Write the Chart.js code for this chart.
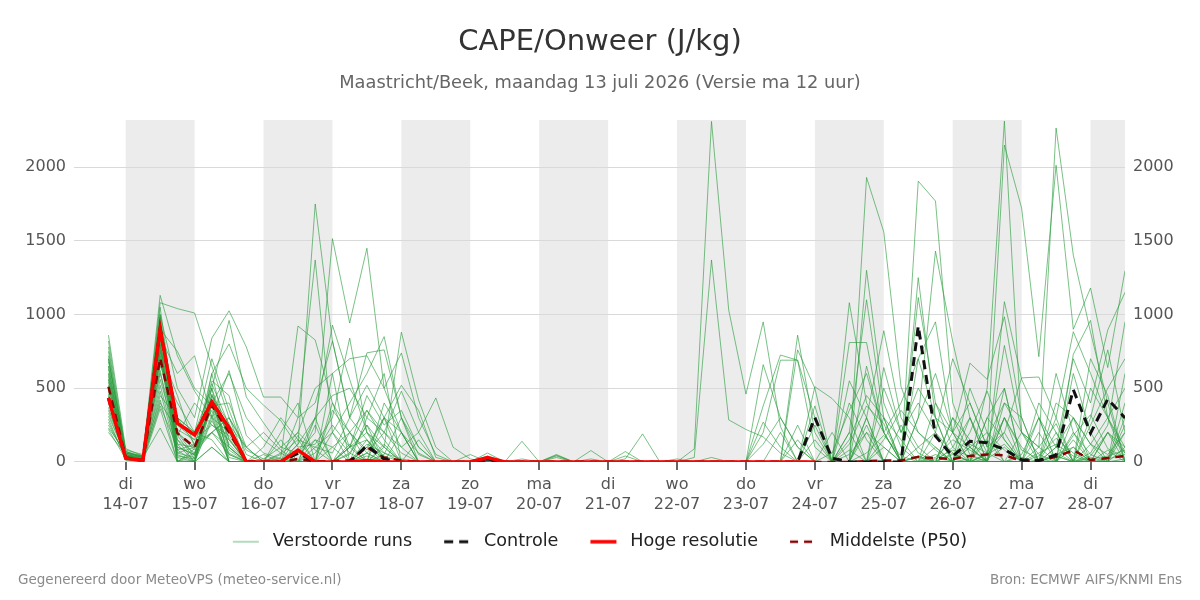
<!DOCTYPE html>
<html><head><meta charset="utf-8">
<script src="https://cdn.jsdelivr.net/npm/chart.js@4.4.1/dist/chart.umd.min.js"></script>
<style>html,body{margin:0;padding:0;background:#fff;}#wrap{position:relative;width:1200px;height:600px;}</style>
</head><body><div id="wrap"><canvas id="c" width="1200" height="600"></canvas></div>
<script>
// Time axis: index 0 = 13-07 18h, step 6 h
const dayNames = ['di','wo','do','vr','za','zo','ma','di','wo','do','vr','za','zo','ma','di'];
const dayDates = ['14-07','15-07','16-07','17-07','18-07','19-07','20-07','21-07','22-07','23-07','24-07','25-07','26-07','27-07','28-07'];
const dayTickIdx = [1,5,9,13,17,21,25,29,33,37,41,45,49,53,57];
const shadeStart = [1,9,17,25,33,41,49,57];
const yTicks = [0,500,1000,1500,2000];

const hres = [434,25,10,900,263,183,407,230,0, 0,0,80,0,0,0,10,0,0,0,0,0, 0,30,0,0,0,0,0,0,0,0,0,0,0, 0,0,0,0,0,0,0,0, null,null,null,null,null,null,null,null,null,null,null,null,null,null,null,null,null,null];
const control = [434,25,10,900,263,183,407,230,0, 0,0,60,0,0,0,110,20,0,0,0,0, 0,20,0,0,0,0,0,0,0,0,0,0,0, 0,0,0,0,0,0,0,300,25,0,0,0,0, 922,175,38,140,130,85,14,10,47,490,195,427,298];
const p50 = [510,30,10,705,195,100,385,200,5, 0,0,20,5,5,10,100,30,10,0,0,0, 0,10,0,0,0,0,0,0,0,0,0,0,0, 0,0,0,0,0,0,0,0,0,0,5,10,10, 34,25,20,40,50,45,8,8,34,80,13,27,40];

const m01 = [860,90,40,1130,720,480,300,620,180, 60,20,0,300,928,560,200,60,20,0,0,0, 0,10,0,0,0,0,0,0,0,0,0,0,0, 88,2310,1030,460,950,240,0,0,0,120,380,260,0, 40,0,10,120,60,300,80,20,0,180,320,90,30];
const m02 = [820,70,30,1080,1040,1010,650,300,80, 20,0,120,1750,820,300,150,40,0,0,0,0, 0,0,0,0,0,0,0,0,0,0,0,0,0, 30,1370,285,220,170,60,0,0,0,0,60,180,40, 0,30,150,80,10,1087,560,300,100,0,40,200,60];
const m03 = [780,50,20,1000,500,300,840,1025,780, 440,440,300,1370,200,60,0,0,0,0,0,0, 0,0,0,140,0,0,0,0,0,0,0,0,0, 0,0,0,0,380,725,690,300,0,50,200,100,0, 0,0,0,20,160,400,200,50,0,300,120,0,0];
const m04 = [750,60,30,950,300,200,500,960,440, 265,100,60,200,1515,942,1450,500,200,60,0,0, 0,0,0,0,0,0,0,0,0,0,0,0,0, 0,0,0,0,0,0,860,200,0,0,300,890,300, 100,200,60,0,300,150,0,40,160,60,0,200,100];
const m05 = [720,40,20,900,750,500,380,400,100, 0,30,922,827,400,200,60,0,0,0,0,0, 0,30,0,0,0,0,0,0,0,0,0,0,0, 0,30,0,0,200,690,690,100,0,810,810,200,0, 0,50,0,200,480,150,0,100,260,0,60,250,950];
const m06 = [700,30,20,850,600,720,300,200,0, 0,0,300,400,820,300,740,760,300,50,0,0, 0,0,0,0,0,40,0,0,0,0,0,0,0, 0,0,0,0,660,300,100,0,0,0,1930,1560,510, 200,80,0,0,50,120,0,0,100,300,120,50,200];
const m07 = [680,80,50,800,200,100,600,800,500, 385,280,100,120,300,840,200,100,880,420,100,0, 0,0,0,0,0,0,0,0,0,0,0,0,0, 0,0,0,0,0,0,0,0,0,0,1300,400,100, 0,0,200,100,0,0,50,300,0,0,0,80,0];
const m08 = [650,30,10,700,100,50,400,600,300, 150,60,200,500,600,700,720,500,739,300,50,0, 0,0,0,0,0,0,0,77,0,0,0,0,0, 0,0,0,0,0,0,0,0,0,200,1100,300,0, 1115,400,100,0,0,0,200,100,0,600,200,0,0];
const m09 = [630,20,10,650,400,200,700,350,50, 0,0,0,0,200,400,600,850,300,100,0,0, 0,0,0,0,0,0,0,0,0,0,0,0,0, 0,0,0,0,0,0,0,510,430,300,0,0,0, 1905,1770,400,100,0,300,100,0,40,0,120,300,60];
const m10 = [600,60,40,600,180,400,250,150,0, 0,0,60,300,450,500,300,200,100,200,434,100, 20,0,0,0,0,0,0,0,0,0,0,0,0, 0,0,0,0,0,0,0,0,0,0,300,0,0, 1250,300,0,0,60,790,200,0,0,0,300,760,200];
const m11 = [580,40,20,560,150,60,200,300,100, 0,50,150,100,60,300,520,300,520,350,30,0, 0,0,0,0,0,0,0,0,0,0,0,0,0, 0,0,0,0,0,0,0,380,0,0,0,0,0, 300,1430,816,300,60,0,0,200,0,0,0,0,100];
const m12 = [560,20,10,520,80,0,450,260,0, 0,0,0,0,400,100,450,250,350,100,0,0, 50,0,0,0,0,0,0,0,0,0,0,0,0, 0,0,0,0,0,0,0,0,0,0,0,0,0, 0,0,0,0,500,2312,200,100,2265,1403,880,400,0];
const m13 = [540,50,30,480,50,0,600,100,0, 0,20,0,250,0,200,350,150,0,0,0,0, 0,0,0,0,0,0,0,0,0,20,190,0,0, 0,0,0,0,0,0,0,0,0,0,650,200,400, 700,300,200,400,100,2150,1722,714,2013,900,1180,640,1297];
const m14 = [520,30,10,450,300,120,200,50,0, 0,0,0,0,0,50,250,100,0,0,0,0, 0,60,0,0,0,50,0,0,0,70,0,0,0, 0,0,0,0,0,0,0,0,0,0,0,300,0, 300,600,200,670,560,985,300,0,100,700,400,895,1150];
const m15 = [500,70,40,420,0,0,100,0,0, 0,0,0,0,0,0,100,300,200,0,0,0, 0,40,0,0,0,45,0,20,0,0,0,0,0, 0,0,0,0,0,0,0,0,0,0,0,0,0, 0,200,700,400,100,200,570,576,300,883,600,300,500];
const m16 = [480,20,10,400,220,150,250,180,0, 0,0,0,100,200,0,300,600,0,0,0,0, 0,0,0,20,0,30,0,0,0,40,0,0,20, 0,0,0,0,0,0,760,500,0,0,200,0,0, 0,0,0,0,0,300,0,0,50,100,0,0,0];
const m17 = [460,50,20,380,100,50,550,450,0, 0,0,0,0,0,0,0,120,0,0,0,0, 0,0,0,0,0,0,0,0,0,0,0,0,0, 0,0,0,0,0,0,0,0,0,1080,400,200,0, 0,100,0,500,200,0,0,300,0,150,0,0,300];
const m18 = [440,10,0,360,0,0,300,0,0, 0,0,180,0,0,0,0,0,0,0,0,0, 0,0,0,0,0,0,0,0,0,0,0,0,0, 0,0,0,0,0,0,0,0,0,0,0,0,0, 700,950,200,0,0,0,0,0,0,0,0,0,0];
const m19 = [420,40,20,700,300,200,150,0,0, 0,0,0,0,0,0,40,0,0,0,0,0, 0,0,0,0,0,0,0,0,0,0,0,0,0, 0,0,0,0,0,0,0,0,0,0,0,0,0, 30,0,60,0,20,100,0,0,40,0,30,0,20];
const m20 = [400,30,10,750,450,100,200,300,0, 0,0,0,0,0,100,0,0,0,0,0,0, 0,0,0,0,0,0,0,0,0,0,0,0,0, 0,0,0,0,0,0,0,0,0,0,0,0,0, 0,0,300,50,0,0,0,0,0,0,0,0,0];
const m21 = [370,20,10,980,60,30,500,150,0, 0,0,50,150,100,0,120,60,0,0,0,0, 0,0,0,0,0,0,0,0,0,0,0,0,0, 0,0,0,0,270,100,0,0,60,350,600,200,0, 40,0,0,100,200,80,0,60,120,40,0,20,50];
const m22 = [350,60,30,920,80,120,450,100,0, 0,60,0,60,250,100,200,0,0,0,0,0, 0,0,0,0,0,0,0,0,0,0,0,0,0, 0,0,0,0,0,0,250,0,0,150,450,300,150, 0,20,80,40,0,0,30,0,60,0,20,40,80];
const m23 = [330,40,20,880,150,0,400,50,0, 0,0,0,0,100,200,80,300,100,0,0,0, 0,0,0,0,0,0,0,0,0,0,0,0,0, 0,0,0,0,0,0,0,150,0,200,0,0,250, 60,0,0,0,50,200,0,0,0,100,0,0,0];
const m24 = [310,50,10,820,0,60,420,80,0, 20,100,200,80,0,0,150,0,0,0,0,0, 0,0,0,0,0,0,0,0,0,0,0,0,0, 0,0,0,0,0,0,0,0,0,0,0,0,0, 0,0,100,300,0,0,0,400,200,0,500,300,0];
const m25 = [290,20,10,780,120,100,380,200,0, 0,0,0,0,0,100,350,200,60,0,0,0, 0,0,0,0,0,0,0,0,0,0,0,0,0, 0,0,0,0,120,300,100,0,0,0,0,500,200, 400,200,0,0,0,500,0,0,0,730,960,300,100];
const m26 = [270,30,20,760,60,100,350,0,0, 0,150,0,0,350,200,0,50,300,0,0,0, 0,0,0,0,0,0,0,0,0,0,0,0,0, 0,0,0,0,0,0,0,0,0,0,250,0,0, 0,0,50,0,150,0,0,0,600,200,0,0,400];
const m27 = [250,40,20,740,0,90,390,120,0, 50,0,0,0,0,0,60,200,480,200,0,0, 0,0,0,0,0,0,0,0,0,0,0,0,0, 0,0,0,0,0,0,150,0,0,80,0,150,350, 200,100,0,0,0,400,300,0,0,0,250,500,700];
const m28 = [230,70,30,680,200,40,500,0,0, 0,0,0,150,0,0,0,0,0,0,0,0, 0,0,0,0,0,0,0,0,0,0,0,0,0, 0,0,0,0,0,0,0,0,0,0,0,0,0, 0,0,0,0,0,0,0,0,0,200,50,0,0];
const m29 = [220,20,10,620,30,0,280,60,0, 0,200,400,0,0,0,100,0,0,0,0,0, 0,0,0,0,0,0,0,0,0,0,0,0,0, 0,0,0,0,0,0,0,0,200,0,0,100,0, 0,0,300,150,0,0,0,0,400,300,0,0,200];
const m30 = [200,50,30,230,0,0,100,0,0, 0,0,0,0,0,0,0,0,0,0,0,0, 0,0,0,0,0,0,0,0,0,0,0,0,0, 0,0,0,0,0,0,0,0,0,0,0,0,0, 0,0,0,0,0,0,0,0,0,0,0,0,0];
const m31 = [650,30,10,1050,180,20,420,30,0, 100,300,150,0,0,120,0,400,200,0,0,0, 0,0,0,0,0,0,0,0,0,0,0,0,0, 0,0,0,0,0,0,0,0,0,0,0,640,200, 500,300,0,100,0,0,0,0,200,0,0,0,600];
const m32 = [600,20,0,980,250,150,530,250,100, 200,80,0,0,0,60,250,0,0,0,0,0, 0,0,0,0,0,0,0,0,0,0,0,0,0, 0,0,0,0,0,200,0,0,0,400,150,0,0, 100,0,0,0,300,500,0,0,0,0,700,450,0];
const m33 = [700,60,40,1000,10,0,380,0,0, 0,0,0,0,600,0,0,300,0,0,0,0, 0,0,0,0,0,0,0,0,0,0,0,0,0, 0,0,0,0,0,0,0,0,0,0,0,0,0, 0,0,0,0,0,0,0,0,0,0,0,0,0];
const m34 = [560,40,20,830,120,0,460,160,0, 0,0,120,300,0,0,0,100,0,150,0,0, 0,0,0,0,0,0,0,0,0,0,0,0,0, 0,0,0,0,0,0,0,250,0,0,0,0,0, 0,400,200,0,0,0,0,0,300,0,0,0,250];
const m35 = [450,30,20,790,40,20,320,0,0, 0,0,0,0,0,0,60,0,0,0,0,0, 0,0,0,0,0,0,0,0,0,0,0,0,0, 0,0,0,0,0,0,0,0,0,0,0,0,0, 0,0,0,0,0,0,0,0,0,0,0,0,0];
const m36 = [510,50,20,720,200,80,200,100,0, 0,0,0,0,0,100,150,0,200,0,0,0, 0,0,0,0,0,0,0,0,0,0,0,0,0, 0,0,0,0,0,0,0,0,0,550,300,0,0, 0,0,0,300,0,0,0,0,0,0,0,200,0];

const members = [m01,m02,m03,m04,m05,m06,m07,m08,m09,m10,m11,m12,m13,m14,m15,m16,m17,m18,m19,m20,m21,m22,m23,m24,m25,m26,m27,m28,m29,m30,m31,m32,m33,m34,m35,m36];

const FONT = "'DejaVu Sans', 'Noto Sans', sans-serif";
Chart.defaults.font.family = FONT;

const toXY = arr => arr.map((v, i) => ({x: i, y: v}));
const MEMBER_COLOR = 'rgba(40,155,60,0.62)';

// legend sample: 22px lead space, 26px line, 5px tail
function legendImg(color, width, dash) {
  const c = document.createElement('canvas');
  c.width = 53; c.height = 10;
  const g = c.getContext('2d');
  g.strokeStyle = color; g.lineWidth = width; g.setLineDash(dash);
  g.beginPath(); g.moveTo(22, 5); g.lineTo(48, 5); g.stroke();
  return c;
}

const datasets = [];
datasets.push({label: 'Controle', data: toXY(control), borderColor: '#111', borderWidth: 3, borderDash: [9, 6], pointRadius: 0, order: 2, _legend: legendImg('#111', 3, [9, 6]), _rank: 1});
datasets.push({label: 'Hoge resolutie', data: toXY(hres), borderColor: '#ff0000', borderWidth: 3.5, pointRadius: 0, order: 1, _legend: legendImg('#ff0000', 3.5, []), _rank: 2});
datasets.push({label: 'Middelste (P50)', data: toXY(p50), borderColor: '#8b0000', borderWidth: 2.5, borderDash: [8, 6], pointRadius: 0, order: 3, _legend: legendImg('#8b0000', 2.5, [8, 6]), _rank: 3});
members.forEach((m, k) => {
  datasets.push({label: k === 0 ? 'Verstoorde runs' : '', data: toXY(m), borderColor: MEMBER_COLOR, borderWidth: 1, pointRadius: 0, order: 10, _legend: k === 0 ? legendImg('rgba(40,155,60,0.7)', 1, []) : null, _rank: k === 0 ? 0 : 99});
});

const shadePlugin = {
  id: 'shade',
  afterLayout(chart) {
    // centre the legend row visually (sample images carry a leading gap)
    if (chart.legend) { chart.legend.left -= 11; chart.legend.right -= 11; }
  },
  beforeDraw(chart) {
    const {ctx, chartArea, scales: {x}} = chart;
    ctx.save();
    ctx.fillStyle = '#ececec';
    shadeStart.forEach(s => {
      const x0 = Math.max(x.getPixelForValue(s), chartArea.left);
      const x1 = Math.min(x.getPixelForValue(s + 4), chartArea.right);
      if (x1 > x0) ctx.fillRect(x0, chartArea.top, x1 - x0, chartArea.bottom - chartArea.top);
    });
    ctx.restore();
  }
};

const footerPlugin = {
  id: 'footer',
  afterDraw(chart) {
    const ctx = chart.ctx;
    ctx.save();
    ctx.font = "13.5px " + FONT;
    ctx.fillStyle = '#8a8a8a';
    ctx.textBaseline = 'middle';
    ctx.textAlign = 'left';
    ctx.fillText('Gegenereerd door MeteoVPS (meteo-service.nl)', 18, 580);
    ctx.textAlign = 'right';
    ctx.fillText('Bron: ECMWF AIFS/KNMI Ens', 1182, 580);
    ctx.restore();
  }
};

const yCommon = {
  type: 'linear', min: 0, max: 2320,
  afterBuildTicks: ax => { ax.ticks = yTicks.map(v => ({value: v})); },
  ticks: {color: '#555', font: {size: 16}, padding: 8, callback: v => String(v)},
  border: {display: false}
};

new Chart(document.getElementById('c'), {
  type: 'line',
  data: {datasets},
  plugins: [shadePlugin, footerPlugin],
  options: {
    responsive: false, animation: false, devicePixelRatio: 1,
    layout: {padding: {left: 0, right: 0, top: 0, bottom: 39.5}},
    elements: {line: {tension: 0}},
    scales: {
      x: {
        type: 'linear', min: -2, max: 59,
        afterBuildTicks: ax => { ax.ticks = dayTickIdx.map(v => ({value: v})); },
        afterFit: ax => { ax.height = 61; },
        ticks: {
          autoSkip: false, maxRotation: 0, color: '#555', font: {size: 16, lineHeight: 1.25}, padding: 4.5,
          callback: v => { const k = dayTickIdx.indexOf(v); return k < 0 ? '' : [dayNames[k], dayDates[k]]; }
        },
        grid: {drawOnChartArea: false, drawTicks: true, tickLength: 8, color: '#666', lineWidth: 2},
        border: {display: false}
      },
      y: Object.assign({}, yCommon, {
        position: 'left',
        afterFit: ax => { ax.width = 74; },
        grid: {color: '#d9d9d9', lineWidth: 1, drawTicks: false}
      }),
      y2: Object.assign({}, yCommon, {
        position: 'right',
        afterFit: ax => { ax.width = 75; },
        grid: {display: false, drawTicks: false}
      })
    },
    plugins: {
      title: {display: true, text: 'CAPE/Onweer (J/kg)', color: '#333', font: {size: 29, weight: 'normal'}, padding: {top: 25, bottom: 8}},
      subtitle: {display: true, text: 'Maastricht/Beek, maandag 13 juli 2026 (Versie ma 12 uur)', color: '#666', font: {size: 17.8}, padding: {top: 4.5, bottom: 26.3}},
      legend: {
        position: 'bottom',
        labels: {
          usePointStyle: true, pointStyleWidth: 53, padding: 10, color: '#222', font: {size: 17.6},
          filter: item => datasets[item.datasetIndex]._rank < 99,
          sort: (a, b) => datasets[a.datasetIndex]._rank - datasets[b.datasetIndex]._rank,
          generateLabels: chart => {
            const items = Chart.defaults.plugins.legend.labels.generateLabels(chart);
            items.forEach(it => { const d = datasets[it.datasetIndex]; if (d._legend) it.pointStyle = d._legend; });
            return items;
          }
        }
      },
      tooltip: {enabled: false}
    }
  }
});
</script></body></html>
